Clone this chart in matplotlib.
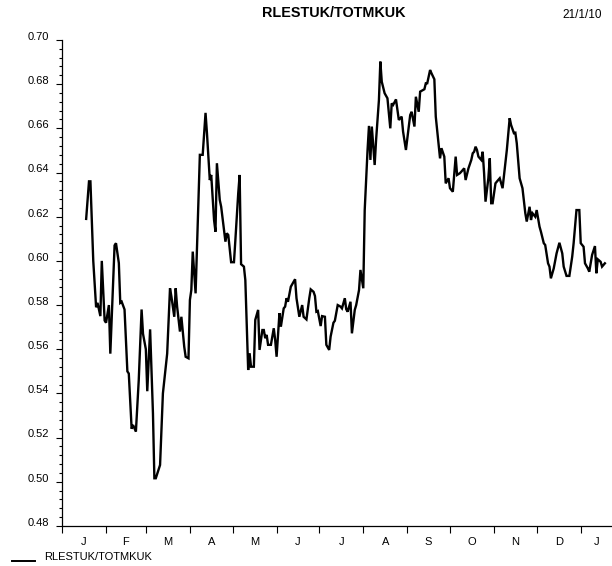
import matplotlib
matplotlib.use("Agg")
import matplotlib.pyplot as plt
import matplotlib.dates as mdates
import matplotlib.transforms as mtransforms
from matplotlib.lines import Line2D
from matplotlib.ticker import FixedLocator, FixedFormatter, MultipleLocator
import pandas as pd

plt.rcParams['font.family'] = ['Liberation Sans', 'DejaVu Sans']

series_name = "RLESTUK/TOTMKUK"
run_date = "21/1/10"

# ratio series, daily observations
dates = [
    "2009-01-18", "2009-01-20", "2009-01-21", "2009-01-23", "2009-01-25", "2009-01-26",
    "2009-01-28", "2009-01-29", "2009-01-31", "2009-02-01", "2009-02-03", "2009-02-04",
    "2009-02-07", "2009-02-08", "2009-02-10", "2009-02-11", "2009-02-12", "2009-02-14",
    "2009-02-16", "2009-02-17", "2009-02-19", "2009-02-20", "2009-02-22", "2009-02-24",
    "2009-02-26", "2009-02-27", "2009-03-01", "2009-03-02", "2009-03-04", "2009-03-06",
    "2009-03-07", "2009-03-08", "2009-03-11", "2009-03-13", "2009-03-14", "2009-03-16",
    "2009-03-18", "2009-03-19", "2009-03-21", "2009-03-22", "2009-03-23", "2009-03-25",
    "2009-03-26", "2009-03-28", "2009-03-29", "2009-03-31", "2009-04-01", "2009-04-02",
    "2009-04-03", "2009-04-05", "2009-04-08", "2009-04-10", "2009-04-12", "2009-04-13",
    "2009-04-15", "2009-04-16", "2009-04-18", "2009-04-19", "2009-04-20", "2009-04-22",
    "2009-04-23", "2009-04-26", "2009-04-27", "2009-04-28", "2009-04-30", "2009-05-02",
    "2009-05-03", "2009-05-05", "2009-05-06", "2009-05-07", "2009-05-09", "2009-05-10",
    "2009-05-12", "2009-05-13", "2009-05-14", "2009-05-16", "2009-05-17", "2009-05-19",
    "2009-05-20", "2009-05-22", "2009-05-23", "2009-05-24", "2009-05-25", "2009-05-26",
    "2009-05-28", "2009-05-30", "2009-05-31", "2009-06-01", "2009-06-03", "2009-06-04",
    "2009-06-06", "2009-06-07", "2009-06-08", "2009-06-09", "2009-06-11", "2009-06-14",
    "2009-06-15", "2009-06-17", "2009-06-19", "2009-06-20", "2009-06-22", "2009-06-24",
    "2009-06-25", "2009-06-27", "2009-06-28", "2009-06-29", "2009-06-30", "2009-07-02",
    "2009-07-03", "2009-07-05", "2009-07-06", "2009-07-08", "2009-07-09", "2009-07-11",
    "2009-07-12", "2009-07-14", "2009-07-16", "2009-07-17", "2009-07-19", "2009-07-20",
    "2009-07-21", "2009-07-23", "2009-07-24", "2009-07-26", "2009-07-27", "2009-07-29",
    "2009-07-30", "2009-08-01", "2009-08-02", "2009-08-04", "2009-08-05", "2009-08-06",
    "2009-08-07", "2009-08-09", "2009-08-10", "2009-08-12", "2009-08-13", "2009-08-14",
    "2009-08-16", "2009-08-18", "2009-08-20", "2009-08-21", "2009-08-22", "2009-08-24",
    "2009-08-26", "2009-08-28", "2009-08-29", "2009-08-31", "2009-09-02", "2009-09-03",
    "2009-09-04", "2009-09-06", "2009-09-07", "2009-09-09", "2009-09-10", "2009-09-13",
    "2009-09-14", "2009-09-15", "2009-09-17", "2009-09-18", "2009-09-20", "2009-09-21",
    "2009-09-23", "2009-09-24", "2009-09-25", "2009-09-27", "2009-09-28", "2009-09-30",
    "2009-10-01", "2009-10-03", "2009-10-05", "2009-10-06", "2009-10-08", "2009-10-09",
    "2009-10-11", "2009-10-12", "2009-10-14", "2009-10-16", "2009-10-17", "2009-10-18",
    "2009-10-19", "2009-10-20", "2009-10-21", "2009-10-23", "2009-10-24", "2009-10-25",
    "2009-10-26", "2009-10-28", "2009-10-29", "2009-10-30", "2009-10-31", "2009-11-02",
    "2009-11-03", "2009-11-05", "2009-11-06", "2009-11-07", "2009-11-10", "2009-11-12",
    "2009-11-13", "2009-11-15", "2009-11-16", "2009-11-17", "2009-11-19", "2009-11-21",
    "2009-11-23", "2009-11-24", "2009-11-26", "2009-11-27", "2009-11-28", "2009-11-30",
    "2009-12-01", "2009-12-03", "2009-12-04", "2009-12-06", "2009-12-07", "2009-12-09",
    "2009-12-10", "2009-12-11", "2009-12-13", "2009-12-15", "2009-12-17", "2009-12-19",
    "2009-12-20", "2009-12-22", "2009-12-24", "2009-12-26", "2009-12-27", "2009-12-29",
    "2009-12-31", "2010-01-01", "2010-01-03", "2010-01-04", "2010-01-06", "2010-01-07",
    "2010-01-09", "2010-01-11", "2010-01-12", "2010-01-13", "2010-01-15", "2010-01-16",
    "2010-01-18",
]
values = [
    0.619, 0.636, 0.636, 0.600, 0.579, 0.581,
    0.575, 0.600, 0.573, 0.572, 0.580, 0.558,
    0.607, 0.608, 0.599, 0.581, 0.5815, 0.578,
    0.550, 0.549, 0.524, 0.5257, 0.5227, 0.546,
    0.578, 0.567, 0.560, 0.541, 0.569, 0.531,
    0.5016, 0.5016, 0.5076, 0.540, 0.546, 0.558,
    0.5876, 0.5838, 0.5747, 0.5876, 0.5793, 0.568,
    0.5747, 0.5612, 0.5566, 0.5559, 0.5823, 0.5868,
    0.6042, 0.5853, 0.648, 0.648, 0.667, 0.6578,
    0.6366, 0.6389, 0.6185, 0.6132, 0.6442, 0.6276,
    0.6245, 0.6087, 0.6125, 0.6117, 0.5994, 0.5994,
    0.6095, 0.6306, 0.6389, 0.5985, 0.5974, 0.5913,
    0.5506, 0.5582, 0.5521, 0.5521, 0.5733, 0.5778,
    0.5597, 0.5687, 0.5687, 0.565, 0.5665, 0.562,
    0.562, 0.5695, 0.5642, 0.5566, 0.5763, 0.5702,
    0.5785, 0.5793, 0.5831, 0.5815, 0.5883, 0.5917,
    0.5831, 0.5747, 0.580, 0.5747, 0.5735, 0.5831,
    0.5871, 0.586, 0.5841, 0.577, 0.5773, 0.5705,
    0.575, 0.5747, 0.562, 0.5597, 0.5657, 0.572,
    0.5729, 0.580, 0.5793, 0.5785, 0.5831, 0.5781,
    0.577, 0.5815, 0.5672, 0.5778, 0.580, 0.5868,
    0.5959, 0.5876, 0.623, 0.6502, 0.6611, 0.6457,
    0.6608, 0.6434, 0.6547, 0.6728, 0.6902, 0.6811,
    0.6759, 0.6736, 0.660, 0.6713, 0.6706, 0.6731,
    0.6638, 0.6653, 0.6585, 0.6502, 0.6608, 0.666,
    0.6675, 0.6608, 0.6743, 0.6675, 0.6766, 0.6777,
    0.6804, 0.6804, 0.6864, 0.6849, 0.6822, 0.6653,
    0.6525, 0.6464, 0.651, 0.6472, 0.6351, 0.6374,
    0.6329, 0.6313, 0.6472, 0.6389, 0.6397, 0.6404,
    0.6419, 0.6366, 0.6419, 0.6457, 0.6487, 0.6494,
    0.6517, 0.6502, 0.6472, 0.6457, 0.6494, 0.6397,
    0.6268, 0.6374, 0.6464, 0.6261, 0.6261, 0.6351,
    0.6359, 0.6374, 0.6351, 0.6329, 0.6502, 0.6646,
    0.6615, 0.6578, 0.658, 0.6532, 0.6374, 0.6329,
    0.6216, 0.6178, 0.6245, 0.6185, 0.6216, 0.620,
    0.623, 0.6155, 0.6132, 0.608, 0.6072, 0.5989,
    0.5974, 0.5921, 0.5966, 0.6034, 0.6082, 0.6034,
    0.5974, 0.5932, 0.5932, 0.6019, 0.608, 0.623,
    0.623, 0.608, 0.6064, 0.5989, 0.5966, 0.5951,
    0.6027, 0.6067, 0.5944, 0.6007, 0.5996, 0.5974,
    0.5989,
]

month_letters = ["J", "F", "M", "A", "M", "J", "J", "A", "S", "O", "N", "D", "J"]
y_ticks = [0.48, 0.50, 0.52, 0.54, 0.56, 0.58, 0.60, 0.62, 0.64, 0.66, 0.68, 0.70]

x_start = pd.Timestamp("2009-01-01")
x_end = pd.Timestamp("2010-01-23")

df = pd.DataFrame({"date": pd.to_datetime(dates), "value": values})

fig = plt.figure(figsize=(6.12, 5.66), dpi=100)
ax = fig.add_axes([0.1013, 0.0707, 0.8987, 0.8587])

ax.plot(df["date"], df["value"], color="black", lw=1.7, solid_joinstyle="miter")

ax.set_xlim(x_start, x_end)
ax.set_ylim(y_ticks[0], y_ticks[-1])

for side in ["top", "right"]:
    ax.spines[side].set_visible(False)
for side in ["left", "bottom"]:
    ax.spines[side].set_linewidth(0.9)

# month boundaries as ticks, month letters centred in each month
month_starts = pd.date_range(x_start, periods=len(month_letters), freq="MS")
month_ends = list(month_starts[1:]) + [month_starts[-1] + pd.offsets.MonthBegin(1)]
centres = []
for s, e in zip(month_starts, month_ends):
    e = min(e, x_end)
    centres.append(mdates.date2num(s) + (mdates.date2num(e) - mdates.date2num(s)) / 2)

ax.xaxis.set_major_locator(FixedLocator(mdates.date2num(month_starts)))
ax.xaxis.set_major_formatter(FixedFormatter([""] * len(month_starts)))
ax.xaxis.set_minor_locator(FixedLocator(centres))
ax.xaxis.set_minor_formatter(FixedFormatter(month_letters))
ax.tick_params(axis="x", which="major", direction="out", length=5, width=0.8)
ax.tick_params(axis="x", which="minor", length=0, pad=8, labelsize=8)

ax.yaxis.set_major_locator(FixedLocator(y_ticks))
ax.yaxis.set_major_formatter(FixedFormatter([f"{v:.2f}" for v in y_ticks]))
ax.yaxis.set_minor_locator(MultipleLocator(0.004))
ax.tick_params(axis="y", which="major", direction="out", length=4, width=0.8,
               labelsize=8, pad=5)
ax.tick_params(axis="y", which="minor", direction="out", length=2.5, width=0.8)

# y labels sit a little above their ticks
shift = mtransforms.ScaledTranslation(0, 3 / 72, fig.dpi_scale_trans)
for lbl in ax.get_yticklabels():
    lbl.set_transform(lbl.get_transform() + shift)

fig.text(334 / 612, 1 - 13 / 566, series_name, ha="center", va="center",
         fontsize=10.4, fontweight="bold")
fig.text(582 / 612, 1 - 15 / 566, run_date, ha="center", va="center", fontsize=8.5)

# key below the axis
fig.add_artist(Line2D([12 / 612, 35 / 612], [1 - 561 / 566, 1 - 561 / 566],
                      color="black", lw=1.4, transform=fig.transFigure))
fig.text(44 / 612, 1 - 557 / 566, series_name, ha="left", va="center", fontsize=8)

fig.savefig("out.png", dpi=100)
